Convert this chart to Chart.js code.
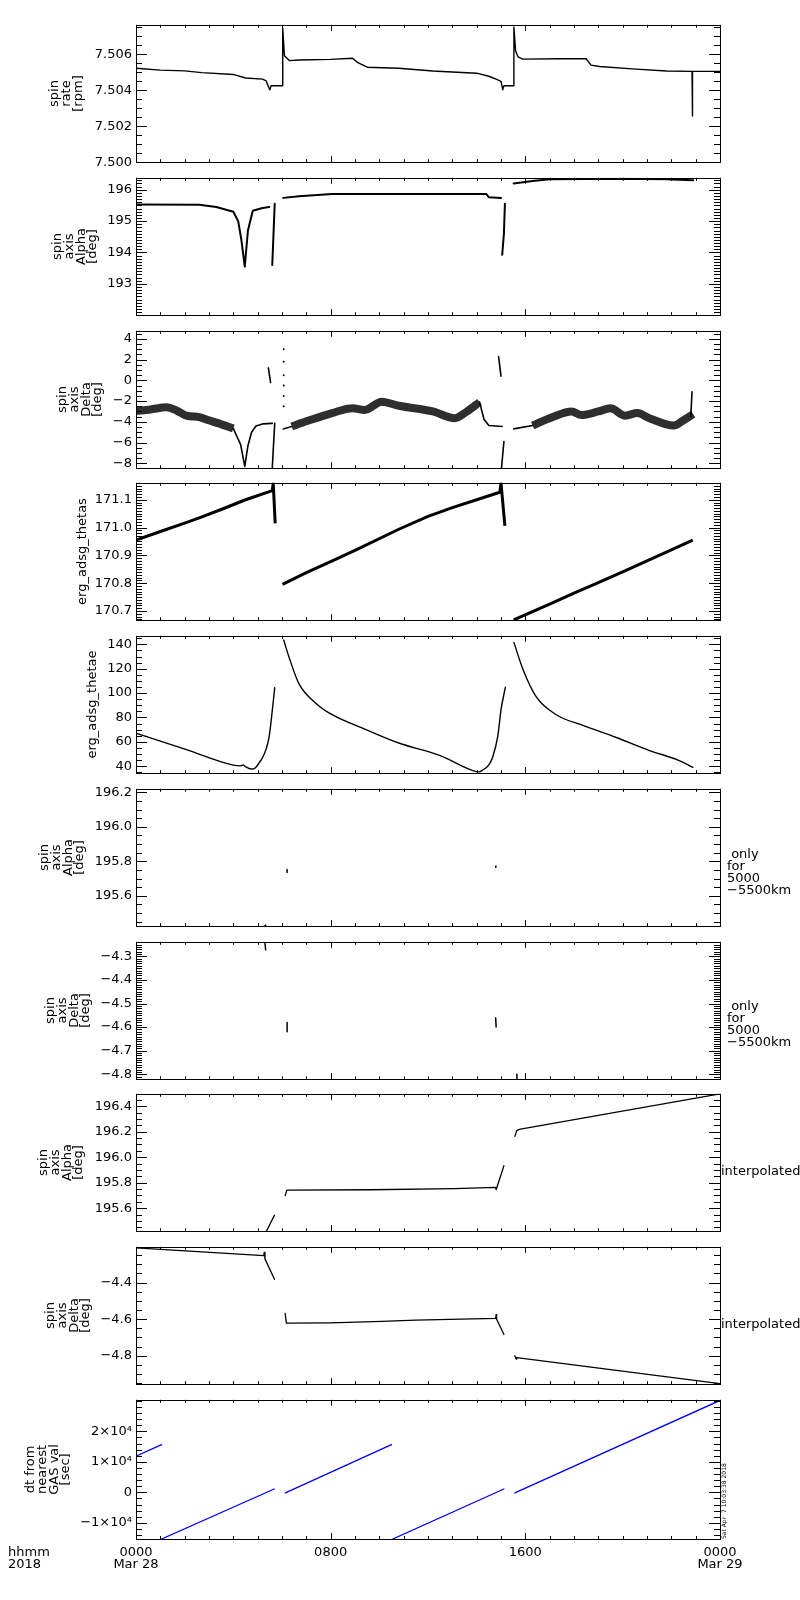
<!DOCTYPE html>
<html>
<head>
<meta charset="utf-8">
<script src="https://cdn.jsdelivr.net/npm/chart.js@4.4.1/dist/chart.umd.min.js"></script>
<style>
  html, body { margin: 0; padding: 0; background: #fff; }
  #wrap { position: relative; width: 800px; height: 1600px; }
  #wrap canvas { position: absolute; left: 0; }
</style>
</head>
<body>
<div id="wrap"></div>
<script>
// time axis: hours since 2018-03-28 00:00
const xTickHours = [0, 8, 16, 24];
const xTickLabels = [['0000', 'Mar 28'], ['0800'], ['1600'], ['0000', 'Mar 29']];

// spin rate [rpm]
const rateHours = [0, 1.0, 2.0, 2.7, 4.0, 4.5, 5.2, 5.35, 5.45, 5.5, 5.55, 6.0, 6.03, 6.1, 6.3, 6.7, 8.0, 8.9, 9.1, 9.5,
  10.8, 12.2, 14.0, 14.5, 14.8, 15.0, 15.07, 15.12, 15.5, 15.53, 15.6, 15.7, 15.9, 17.5, 18.5, 18.7, 19.05, 20.4, 21.8, 22.85,
  22.87, null, 22.9, 24];
const rateValues = [7.50522, 7.50512, 7.50508, 7.50498, 7.50488, 7.50468, 7.50462, 7.50452, 7.50418, 7.50402,
  7.50425, 7.50425, 7.50745, 7.50592, 7.50565, 7.50568, 7.50572, 7.50578, 7.50555, 7.50528,
  7.50522, 7.50507, 7.50495, 7.50478, 7.50462, 7.5045, 7.50403, 7.50425, 7.50425, 7.50752,
  7.50618, 7.50586, 7.50573, 7.50575, 7.50575, 7.5054, 7.50532, 7.50519, 7.50507, 7.50505,
  7.50257, null, 7.50505, 7.50505];

// spin axis alpha [deg]
const alphaHours = [0, 2.6, 3.3, 4.0, 4.2, 4.33, 4.47, 4.6, 4.8, 5.2, 5.48, null, 5.6, 5.7, null,
  6.05, 6.7, 8.06, 10.8, 14.4, 14.5, 15.0, null, 15.05, 15.12, 15.16, null, 15.52, 16.3, 17.0, 20.0, 21.8, 22.9];
const alphaValues = [195.53, 195.52, 195.45, 195.3, 195.0, 194.4, 193.55, 194.7, 195.33, 195.42, 195.45, null, 193.6, 195.55, null,
  195.74, 195.79, 195.86, 195.86, 195.86, 195.76, 195.74, null, 193.93, 194.6, 195.55, null, 196.2, 196.28, 196.33, 196.35, 196.33, 196.3];

// spin axis delta [deg]: noisy band, smooth pieces, isolated dots
const deltaBandHours = [0, 0.6, 1.25, 1.7, 2.07, 2.6, 3.0, 3.4, 4.0, null,
  6.4, 7.0, 8.06, 8.9, 9.4, 10.1, 10.8, 12.2, 13.1, 13.57, 14.12, null,
  16.3, 17.1, 17.9, 18.3, 19.0, 19.5, 20.1, 20.6, 21.1, 22.1, 22.5, 22.9];
const deltaBandValues = [-2.95, -2.8, -2.6, -2.95, -3.4, -3.55, -3.85, -4.15, -4.65, null,
  -4.45, -3.95, -3.15, -2.7, -2.85, -2.05, -2.45, -3.0, -3.65, -3.05, -2.1, null,
  -4.35, -3.55, -3.0, -3.35, -3.0, -2.7, -3.4, -3.15, -3.65, -4.35, -3.85, -3.25];
const deltaLineHours = [4.0, 4.3, 4.47, 4.6, 4.75, 4.93, 5.2, 5.6, null, 5.6, 5.7, null, 5.44, 5.53, null,
  6.05, 6.4, null, 14.12, 14.3, 14.5, 15.05, null, 14.9, 15.0, null, 15.02, 15.12, null, 15.52, 16.3, null, 22.8, 22.85];
const deltaLineValues = [-4.65, -6.2, -8.3, -6.3, -5.0, -4.4, -4.2, -4.15, null, -8.47, -4.15, null, 1.2, -0.2, null,
  -4.68, -4.45, null, -2.1, -3.75, -4.35, -4.45, null, 2.3, 0.4, null, -8.47, -5.9, null, -4.68, -4.35, null, -3.45, -1.1];
const deltaDotHours = [6.07, 6.07, 6.07, 6.07, 6.07, 6.07];
const deltaDotValues = [3.0, 1.8, 0.5, -0.5, -1.5, -2.5];

// erg_adsg_thetas
const thetasHours = [0, 1, 2, 2.6, 3.5, 4.5, 5.6, 5.64, 5.72, null,
  6.02, 7, 8, 9, 10.8, 12, 13, 14, 14.95, 15.0, 15.16, null,
  15.52, 17, 18, 19, 20, 21, 22, 22.88];
const thetasValues = [170.955, 170.986, 171.016, 171.035, 171.065, 171.1, 171.133, 171.16, 171.015, null,
  170.796, 170.838, 170.878, 170.918, 170.994, 171.04, 171.072, 171.1, 171.127, 171.16, 171.006, null,
  170.668, 170.725, 170.764, 170.802, 170.841, 170.88, 170.92, 170.955];

// erg_adsg_thetae
const thetaeHours = [0, 2.07, 4.0, 4.3, 4.4, 4.5, 4.74, 4.9, 5.07, 5.2, 5.35, 5.47, 5.56, 5.7, null,
  6.07, 6.3, 6.7, 7.4, 8.06, 9.43, 10.8, 12.48, 13.98, 14.1, 14.25, 14.5, 14.66, 14.87, 15.0, 15.18, null,
  15.53, 15.9, 16.45, 17.27, 18.37, 19.74, 21.1, 22.3, 22.88];
const thetaeValues = [67, 53.6, 40.8, 40.2, 41, 39.5, 37.6, 38.5, 43, 47, 54.2, 64, 78.2, 104.3, null,
  143.5, 128.8, 107.5, 91.5, 82.2, 70.2, 59, 48.8, 35.5, 35.3, 36.8, 41, 47.5, 64.8, 86.2, 104.8, null,
  141.6, 119.5, 96.8, 82.2, 73.4, 63.5, 52.8, 44.8, 39];

// alpha / delta only for 5000-5500 km
const alphaOnlyHours = [5.3, 5.33, null, 6.21, 6.21, null, 14.78, 14.79];
const alphaOnlyValues = [195.425, 195.43, null, 195.735, 195.752, null, 195.765, 195.772];
const deltaOnlyHours = [5.3, 5.33, null, 6.21, 6.21, null, 14.78, 14.8, null, 15.65, 15.66];
const deltaOnlyValues = [-4.245, -4.272, null, -4.58, -4.62, null, -4.56, -4.6, null, -4.8, -4.82];

// interpolated alpha / delta
const alphaIntHours = [5.36, 5.69, null, 6.13, 6.2, 9.65, 13.1, 14.78, 14.8, 15.12, null, 15.57, 15.65, 15.8, 24];
const alphaIntValues = [195.42, 195.546, null, 195.7, 195.742, 195.745, 195.753, 195.763, 195.745, 195.933, null, 196.163, 196.21, 196.22, 196.497];
const deltaIntHours = [0, 5.25, 5.27, 5.3, 5.69, null, 6.13, 6.18, 8, 10.1, 11.5, 14.78, 14.8, 14.82, 15.12, null, 15.57, 15.62, 15.65, 24];
const deltaIntValues = [-4.21, -4.252, -4.235, -4.27, -4.382, null, -4.569, -4.622, -4.62, -4.612, -4.605, -4.596, -4.575, -4.6, -4.684, null, -4.8, -4.818, -4.81, -4.953];

// dt from nearest GAS val [sec]
const dtHours = [0, 1.05, null, 1.05, 5.68, null, 6.14, 10.5, null, 10.55, 15.12, null, 15.57, 24];
const dtValues = [11877, 15660, null, -15300, 1100, null, -200, 15660, null, -15300, 1100, null, -200, 30150];

// y axis tick values
const rateTicks = [7.500, 7.502, 7.504, 7.506];
const alphaTicks = [193, 194, 195, 196];
const deltaTicks = [-8, -6, -4, -2, 0, 2, 4];
const thetasTicks = [170.7, 170.8, 170.9, 171.0, 171.1];
const thetaeTicks = [40, 60, 80, 100, 120, 140];
const alphaOnlyTicks = [195.6, 195.8, 196.0, 196.2];
const deltaOnlyTicks = [-4.8, -4.7, -4.6, -4.5, -4.4, -4.3];
const alphaIntTicks = [195.6, 195.8, 196.0, 196.2, 196.4];
const deltaIntTicks = [-4.8, -4.6, -4.4];
const dtTicks = [-10000, 0, 10000, 20000];

const stamp = 'Sat Apr  7 10:03:38 2018';

const minus = s => String(s).replace('-', '\u2212');
const fixed = d => v => minus(v.toFixed(d));
const sci = v => v === 0 ? '0' : minus((v / 1e4) + '\u00d710\u2074');
const toPoints = (hs, vs) => hs.map((h, i) => ({ x: h, y: vs[i] }));

const spinAlpha = ['spin', 'axis', 'Alpha', '[deg]'];
const spinDelta = ['spin', 'axis', 'Delta', '[deg]'];
const onlyNote = [' only', 'for', '5000', '\u22125500km'];

const panels = [
  { title: ['spin', 'rate', '[rpm]'], titleLeft: 49, min: 7.5, max: 7.50764, majors: rateTicks, minor: 0.0005, fmt: fixed(3),
    sets: [{ h: rateHours, v: rateValues, w: 1.4 }] },
  { title: spinAlpha, titleLeft: 52, min: 192.0, max: 196.38, majors: alphaTicks, minor: 0.1, fmt: fixed(0),
    sets: [{ h: alphaHours, v: alphaValues, w: 2 }] },
  { title: spinDelta, titleLeft: 57, min: -8.47, max: 4.78, majors: deltaTicks, minor: 0.5, fmt: fixed(0),
    sets: [{ h: deltaBandHours, v: deltaBandValues, w: 8, c: 'rgba(0,0,0,0.82)', cap: 'butt', smooth: true },
           { h: deltaLineHours, v: deltaLineValues, w: 1.6 },
           { h: deltaDotHours, v: deltaDotValues, dots: true }] },
  { title: 'erg_adsg_thetas', titleLeft: 77, min: 170.667, max: 171.161, majors: thetasTicks, minor: 0.01, fmt: fixed(1),
    sets: [{ h: thetasHours, v: thetasValues, w: 3, cap: 'butt' }] },
  { title: 'erg_adsg_thetae', titleLeft: 87, min: 34.2, max: 147, majors: thetaeTicks, minor: 5, fmt: fixed(0),
    sets: [{ h: thetaeHours, v: thetaeValues, w: 1.4, smooth: true }] },
  { title: spinAlpha, titleLeft: 39, min: 195.423, max: 196.221, majors: alphaOnlyTicks, minor: 0.05, fmt: fixed(1),
    sets: [{ h: alphaOnlyHours, v: alphaOnlyValues, w: 1.5 }], note: onlyNote, noteDx: 7, noteDy: 15 },
  { title: spinDelta, titleLeft: 45, min: -4.821, max: -4.238, majors: deltaOnlyTicks, minor: 0.01, fmt: fixed(1),
    sets: [{ h: deltaOnlyHours, v: deltaOnlyValues, w: 1.5 }], note: onlyNote, noteDx: 7, noteDy: 14 },
  { title: spinAlpha, titleLeft: 38, min: 195.42, max: 196.497, majors: alphaIntTicks, minor: 0.05, fmt: fixed(1),
    sets: [{ h: alphaIntHours, v: alphaIntValues, w: 1.3 }], note: ['interpolated'], noteDx: 1, noteDy: 9 },
  { title: spinDelta, titleLeft: 45, min: -4.956, max: -4.204, majors: deltaIntTicks, minor: 0.05, fmt: fixed(1),
    sets: [{ h: deltaIntHours, v: deltaIntValues, w: 1.3 }], note: ['interpolated'], noteDx: 1, noteDy: 9 },
  { title: ['dt from', 'nearest', 'GAS val', '[sec]'], titleLeft: 25, min: -15300, max: 30360, majors: dtTicks, minor: 2000, fmt: sci,
    sets: [{ h: dtHours, v: dtValues, w: 1.3, c: '#0000ff' }], stamp: stamp }
];

Chart.defaults.font.family = "'DejaVu Sans', sans-serif";
Chart.defaults.font.size = 13;
Chart.defaults.color = '#000';

// IDL style frame: box, inward ticks on all four sides, side notes
const idlAxes = {
  id: 'idlAxes',
  afterDraw(chart, args, o) {
    const { ctx, chartArea: a, scales: { x, y } } = chart;
    ctx.save();
    ctx.strokeStyle = '#000';
    ctx.lineWidth = 1;
    ctx.beginPath();
    const tick = (v, len) => {
      const py = Math.round(y.getPixelForValue(v)) + 0.5;
      ctx.moveTo(a.left, py); ctx.lineTo(a.left + len, py);
      ctx.moveTo(a.right, py); ctx.lineTo(a.right - len, py);
    };
    const n0 = Math.ceil(y.min / o.minor - 1e-6), n1 = Math.floor(y.max / o.minor + 1e-6);
    for (let n = n0; n <= n1; n++) tick(n * o.minor, 6);
    o.majors.forEach(v => tick(v, 11));
    for (let hr = 0; hr <= 24; hr++) {
      const px = Math.round(x.getPixelForValue(hr)) + 0.5;
      const len = hr % 8 === 0 ? 6 : 3;
      ctx.moveTo(px, a.top); ctx.lineTo(px, a.top + len);
      ctx.moveTo(px, a.bottom); ctx.lineTo(px, a.bottom - len);
    }
    ctx.stroke();
    ctx.strokeRect(Math.round(a.left) + 0.5, Math.round(a.top) + 0.5,
      Math.round(a.right - a.left), Math.round(a.bottom - a.top));

    ctx.fillStyle = '#000';
    ctx.textBaseline = 'middle';
    ctx.textAlign = 'left';
    if (o.note) {
      ctx.font = "13px 'DejaVu Sans', sans-serif";
      const y0 = (a.top + a.bottom) / 2 + o.noteDy - (o.note.length - 1) * 6;
      o.note.forEach((t, i) => ctx.fillText(t, a.right + o.noteDx, y0 + i * 12));
    }
    if (o.stamp) {
      ctx.save();
      ctx.translate(a.right + 4.5, a.bottom);
      ctx.rotate(-Math.PI / 2);
      ctx.font = "6px 'DejaVu Sans', sans-serif";
      ctx.fillText(o.stamp, 0, 0);
      ctx.restore();
      ctx.font = "13px 'DejaVu Sans', sans-serif";
      ctx.fillText('hhmm', 8, a.bottom + 14);
      ctx.fillText('2018', 8, a.bottom + 26);
    }
    ctx.restore();
  }
};

const wrap = document.getElementById('wrap');

panels.forEach((p, i) => {
  const last = i === panels.length - 1;
  const top = Math.round(23 + i * 152.78);
  const canvas = document.createElement('canvas');
  const height = last ? 201 : 161;
  canvas.width = 800;
  canvas.height = height;
  canvas.style.width = '800px';
  canvas.style.height = height + 'px';
  canvas.style.top = (top - 10) + 'px';
  wrap.appendChild(canvas);

  new Chart(canvas, {
    type: 'line',
    data: {
      datasets: p.sets.map(s => ({
        data: toPoints(s.h, s.v),
        borderColor: s.c || '#000',
        borderWidth: s.w || 1.3,
        showLine: !s.dots,
        pointRadius: s.dots ? 1 : 0,
        pointBackgroundColor: '#000',
        pointBorderWidth: 0,
        borderJoinStyle: 'round',
        borderCapStyle: s.cap || 'round',
        cubicInterpolationMode: s.smooth ? 'monotone' : 'default',
        spanGaps: false,
        tension: 0
      }))
    },
    options: {
      responsive: false,
      animation: false,
      devicePixelRatio: 1,
      events: [],
      layout: { padding: { left: p.titleLeft, right: 80, top: 10, bottom: last ? 0 : 10 } },
      plugins: {
        legend: { display: false },
        tooltip: { enabled: false },
        idlAxes: { majors: p.majors, minor: p.minor, note: p.note, noteDx: p.noteDx, noteDy: p.noteDy, stamp: p.stamp }
      },
      scales: {
        x: {
          type: 'linear',
          min: 0,
          max: 24,
          display: last,
          grid: { display: false, drawTicks: false },
          border: { display: false },
          afterBuildTicks: s => { s.ticks = xTickHours.map(v => ({ value: v })); },
          afterFit: s => { s.height = last ? 50 : 0; },
          ticks: {
            autoSkip: false,
            maxRotation: 0,
            padding: 8,
            font: { size: 13, lineHeight: 12 / 13 },
            callback: v => xTickLabels[xTickHours.indexOf(v)]
          }
        },
        y: {
          type: 'linear',
          min: p.min,
          max: p.max,
          grid: { display: false, drawTicks: false },
          border: { display: false },
          afterBuildTicks: s => { s.ticks = p.majors.map(v => ({ value: v })); },
          afterFit: s => { s.width = 136 - p.titleLeft; },
          ticks: { autoSkip: false, padding: 4, callback: v => p.fmt(v) },
          title: { display: true, text: p.title, padding: 0, font: { size: 13, lineHeight: 0.9 } }
        }
      }
    },
    plugins: [idlAxes]
  });
});
</script>
</body>
</html>
